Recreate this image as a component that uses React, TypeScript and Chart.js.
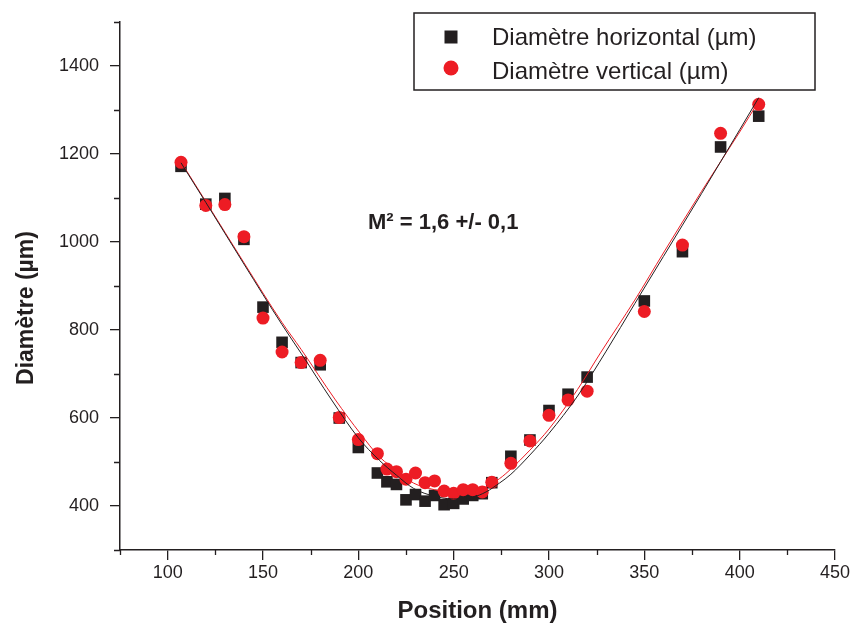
import React, { useEffect, useRef } from "react";
import { Chart, registerables } from "chart.js";

Chart.register(...registerables);

// ---- Data ----
const POSITIONS = [107, 120, 130, 140, 150, 160, 170, 180, 190, 200, 210, 215, 220, 225, 230, 235, 240, 245, 250, 255, 260, 265, 270, 280, 290, 300, 310, 320, 350, 370, 390, 410];
const DIAM_HORIZONTAL = [1172, 1086, 1099, 1006, 852, 772, 726, 721, 600, 533, 475, 455, 449, 414, 426, 411, 424, 403, 406, 416, 424, 428, 453, 513, 550, 617, 654, 693, 866, 978, 1216, 1286];
const DIAM_VERTICAL = [1181, 1083, 1085, 1012, 827, 750, 726, 731, 601, 551, 519, 484, 478, 461, 475, 453, 457, 434, 429, 437, 437, 432, 454, 497, 548, 606, 641, 661, 842, 993, 1247, 1313];

// Fitted curves
const FIT_H_X = [107, 120, 140, 160, 170, 186, 200, 211, 220, 229, 240, 250, 260, 267, 274, 280, 290, 300, 315, 330, 345, 360, 380, 400, 410];
const FIT_H_Y = [1180, 1090, 950, 812, 747, 641, 555, 504, 470, 440, 422, 416, 420, 432, 452, 472, 516, 565, 650, 752, 860, 967, 1110, 1255, 1328];
const FIT_V_X = [107, 120, 140, 160, 170, 188, 201, 211, 222, 229, 240, 248, 256, 264, 274, 280, 290, 300, 315, 327, 345, 360, 380, 400, 410];
const FIT_V_Y = [1182, 1092, 953, 817, 756, 641, 565, 512, 475, 452, 437, 431, 432, 438, 462, 484, 527, 575, 665, 748, 868, 975, 1115, 1250, 1320];

const X_TICKS = [100, 150, 200, 250, 300, 350, 400, 450];
const X_MINOR = [75, 125, 175, 225, 275, 325, 375, 425];
const Y_TICKS = [400, 600, 800, 1000, 1200, 1400];
const Y_MINOR = [300, 500, 700, 900, 1100, 1300, 1500];

const LEGEND_LABELS = ["Diamètre horizontal (µm)", "Diamètre vertical (µm)"];
const ANNOTATION = "M² = 1,6 +/- 0,1";
const X_TITLE = "Position (mm)";
const Y_TITLE = "Diamètre (µm)";

const BLACK = "#231f20";
const RED = "#ed1c24";
const AXIS = "#231f20";
const FONT = "'Liberation Sans', Arial, Helvetica, sans-serif";

const toPts = (xs: number[], ys: number[]) => xs.map((x, i) => ({ x, y: ys[i] }));

const decorPlugin = {
  id: "decor",
  afterDraw(chart: any) {
    const ctx = chart.ctx as CanvasRenderingContext2D;
    const xs = chart.scales.x;
    const ys = chart.scales.y;
    const area = chart.chartArea;
    ctx.save();
    // minor ticks
    ctx.strokeStyle = AXIS;
    ctx.lineWidth = 1.3;
    ctx.beginPath();
    Y_MINOR.forEach((v) => {
      const p = Math.round(ys.getPixelForValue(v)) + 0.5;
      ctx.moveTo(area.left, p);
      ctx.lineTo(area.left - 6, p);
    });
    X_MINOR.forEach((v) => {
      const p = Math.round(xs.getPixelForValue(v)) + 0.5;
      ctx.moveTo(p, area.bottom);
      ctx.lineTo(p, area.bottom + 5);
    });
    ctx.stroke();

    // y title
    ctx.save();
    ctx.translate(27, 308);
    ctx.rotate(-Math.PI / 2);
    ctx.fillStyle = BLACK;
    ctx.font = `bold 23px ${FONT}`;
    ctx.textAlign = "center";
    ctx.textBaseline = "middle";
    ctx.fillText(Y_TITLE, 0, 0);
    ctx.restore();

    // annotation
    ctx.fillStyle = BLACK;
    ctx.font = `bold 22px ${FONT}`;
    ctx.textAlign = "left";
    ctx.textBaseline = "alphabetic";
    ctx.fillText(ANNOTATION, 368, 229);

    // legend
    ctx.fillStyle = "#ffffff";
    ctx.fillRect(414, 13, 401, 77);
    ctx.strokeStyle = AXIS;
    ctx.lineWidth = 1.5;
    ctx.strokeRect(414, 13, 401, 77);
    ctx.fillStyle = BLACK;
    ctx.fillRect(451 - 6.5, 37 - 6.5, 13, 13);
    ctx.fillStyle = RED;
    ctx.beginPath();
    ctx.arc(451, 68, 7.5, 0, Math.PI * 2);
    ctx.fill();
    ctx.fillStyle = BLACK;
    ctx.font = `24px ${FONT}`;
    ctx.fillText(LEGEND_LABELS[0], 492, 45);
    ctx.fillText(LEGEND_LABELS[1], 492, 79);
    ctx.restore();
  },
};

export default function App() {
  const ref = useRef<HTMLCanvasElement | null>(null);
  useEffect(() => {
    if (!ref.current) return;
    const chart = new Chart(ref.current, {
      type: "scatter",
      data: {
        datasets: [
          {
            label: "fit horizontal",
            type: "line",
            data: toPts(FIT_H_X, FIT_H_Y),
            borderColor: BLACK,
            borderWidth: 1,
            pointRadius: 0,
            cubicInterpolationMode: "monotone",
            fill: false,
            order: 0,
          } as any,
          {
            label: "fit vertical",
            type: "line",
            data: toPts(FIT_V_X, FIT_V_Y),
            borderColor: RED,
            borderWidth: 1,
            pointRadius: 0,
            cubicInterpolationMode: "monotone",
            fill: false,
            order: 0,
          } as any,
          {
            label: LEGEND_LABELS[1],
            data: toPts(POSITIONS, DIAM_VERTICAL),
            pointStyle: "circle",
            pointRadius: 6.5,
            backgroundColor: RED,
            borderColor: RED,
            borderWidth: 0,
            order: 1,
          },
          {
            label: LEGEND_LABELS[0],
            data: toPts(POSITIONS, DIAM_HORIZONTAL),
            pointStyle: "rect",
            pointRadius: 8.2,
            backgroundColor: BLACK,
            borderColor: BLACK,
            borderWidth: 0,
            order: 2,
          },
        ],
      },
      options: {
        animation: false,
        responsive: false,
        devicePixelRatio: 1,
        layout: { padding: { top: 22, right: 16, left: 0, bottom: 0 } },
        plugins: { legend: { display: false }, tooltip: { enabled: false } },
        scales: {
          x: {
            type: "linear",
            min: 75,
            max: 450,
            afterBuildTicks: (s: any) => {
              s.ticks = X_TICKS.map((v) => ({ value: v }));
            },
            afterFit: (s: any) => {
              s.height = 80;
            },
            grid: { display: true, drawOnChartArea: false, drawTicks: true, tickLength: 10, color: AXIS, lineWidth: 1.3 },
            border: { display: true, color: AXIS, width: 1.5 },
            ticks: { color: BLACK, font: { family: FONT, size: 18 }, padding: 2, maxRotation: 0, autoSkip: false, callback: (v: any) => String(v) },
            title: { display: true, text: X_TITLE, color: BLACK, font: { family: FONT, size: 24, weight: "bold" }, padding: { top: 0, bottom: 4 } },
          },
          y: {
            type: "linear",
            min: 300,
            max: 1500,
            afterBuildTicks: (s: any) => {
              s.ticks = Y_TICKS.map((v) => ({ value: v }));
            },
            afterFit: (s: any) => {
              s.width = 120;
            },
            grid: { display: true, drawOnChartArea: false, drawTicks: true, tickLength: 10, color: AXIS, lineWidth: 1.3 },
            border: { display: true, color: AXIS, width: 1.5 },
            ticks: { color: BLACK, font: { family: FONT, size: 18 }, padding: 11, autoSkip: false, callback: (v: any) => String(v) },
          },
        },
      },
      plugins: [decorPlugin],
    });
    return () => chart.destroy();
  }, []);
  return (
    <div style={{ position: "absolute", left: 0, top: 0, width: 852, height: 630, background: "#ffffff" }}>
      <canvas ref={ref} width={852} height={630} style={{ display: "block" }} />
    </div>
  );
}
